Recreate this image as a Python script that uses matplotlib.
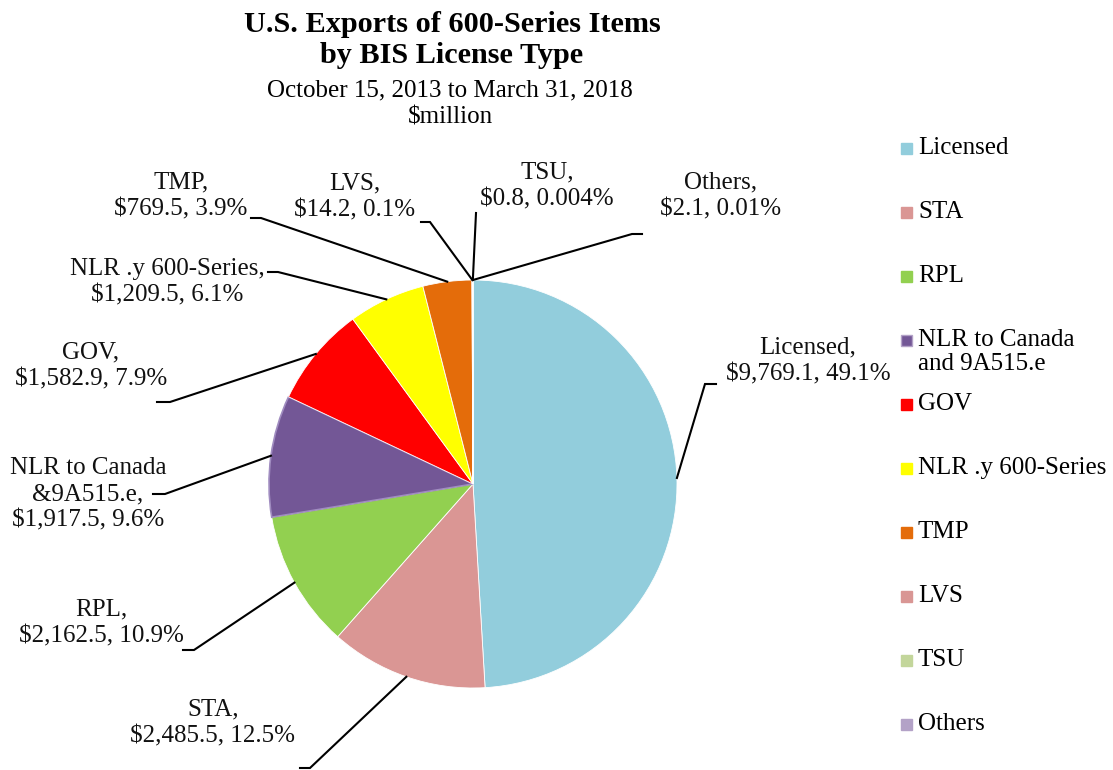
import matplotlib
matplotlib.use("Agg")
import matplotlib.pyplot as plt
from matplotlib.patches import Rectangle
import numpy as np

# ---- data ----
categories = ["Licensed", "STA", "RPL", "NLR to Canada &9A515.e", "GOV",
              "NLR .y 600-Series", "TMP", "LVS", "TSU", "Others"]
legend_labels = ["Licensed", "STA", "RPL", "NLR to Canada\nand 9A515.e", "GOV",
                 "NLR .y 600-Series", "TMP", "LVS", "TSU", "Others"]
values = [9769.1, 2485.5, 2162.5, 1917.5, 1582.9, 1209.5, 769.5, 14.2, 0.8, 2.1]
pct_labels = ["49.1%", "12.5%", "10.9%", "9.6%", "7.9%", "6.1%", "3.9%", "0.1%", "0.004%", "0.01%"]
colors = ["#92CDDC", "#DA9694", "#92D050", "#735796", "#FF0000",
          "#FFFF00", "#E46C0A", "#D99694", "#C3D69B", "#B3A2C7"]

W, H = 1113, 770
plt.rcParams['font.family'] = ['Liberation Serif', 'DejaVu Serif']

fig = plt.figure(figsize=(W / 100, H / 100), dpi=100)
ax = fig.add_axes([0, 0, 1, 1])

def P(x, y):
    return x, H - y

cx, cy = P(473, 484)
R = 204
wedges, _ = ax.pie(values, colors=colors, startangle=90, counterclock=False,
                   center=(cx, cy), radius=R, frame=True,
                   wedgeprops=dict(linewidth=0.6, edgecolor='white'))
wedges[3].set_edgecolor('#A08CC0')
wedges[3].set_linewidth(1.2)
ax.set_xlim(0, W)
ax.set_ylim(0, H)
ax.set_aspect('equal')
ax.axis('off')

# label layout (pixel positions): text center, elbow point, line end
label_layout = [
    ((808, 361), (705, 384), (716, 384)),
    ((213, 723), (310, 768), (300, 768)),
    ((101, 623), (194, 650), (183, 650)),
    ((88, 494), (165, 494), (153, 494)),
    ((91, 366), (170, 402), (157, 402)),
    ((167, 282), (278, 272), (268, 272)),
    ((181, 196), (261, 218), (251, 218)),
    ((355, 197), (430, 222), (421, 222)),
    ((547, 186), (476, 213), (476, 213)),
    ((721, 196), (632, 234), (642, 234)),
]

FS = 18
LS = 1.25
for w, name, v, pc, (tc, el, en) in zip(wedges, categories, values, pct_labels, label_layout):
    mid = np.deg2rad((w.theta1 + w.theta2) / 2)
    ax_x = cx + R * np.cos(mid)
    ax_y = cy + R * np.sin(mid)
    ex, ey = P(*el)
    nx, ny = P(*en)
    ax.plot([ax_x, ex, nx], [ax_y, ey, ny], color='black', lw=1.5,
            solid_joinstyle='miter', zorder=5)
    if name.startswith("NLR to Canada"):
        txt = "NLR to Canada\n&9A515.e,\n${:,.1f}, {}".format(v, pc)
    else:
        txt = "{},\n${:,.1f}, {}".format(name, v, pc)
    tx, ty = P(*tc)
    ax.text(tx, ty, txt, ha='center', va='center', multialignment='center',
            fontsize=FS, linespacing=LS, color='#111111')

# title
ax.text(*P(452, 40), "U.S. Exports of 600-Series Items\nby BIS License Type",
        ha='center', va='center', fontsize=21.8, fontweight='bold', linespacing=1.2)
ax.text(*P(450, 104), "October 15, 2013 to March 31, 2018\n$million",
        ha='center', va='center', fontsize=18, linespacing=1.32)

# legend (manual layout)
leg_y = [148, 212, 276, 340, 404, 468, 532, 596, 660, 724]
for c, lab, y in zip(colors, legend_labels, leg_y):
    x0, y0 = P(901, y + 6)
    ax.add_patch(Rectangle((x0, y0), 11, 11, facecolor=c,
                           edgecolor='#B3A2C7' if lab.startswith("NLR to") else c, lw=1))
    tx, ty = P(918, y)
    if '\n' in lab:
        first, second = lab.split('\n')
        ax.text(tx, ty, first, ha='left', va='center', fontsize=FS)
        ax.text(*P(918, y + 24), second, ha='left', va='center', fontsize=FS)
    else:
        ax.text(tx, ty, lab, ha='left', va='center', fontsize=FS)

fig.savefig("out.png", dpi=100)
